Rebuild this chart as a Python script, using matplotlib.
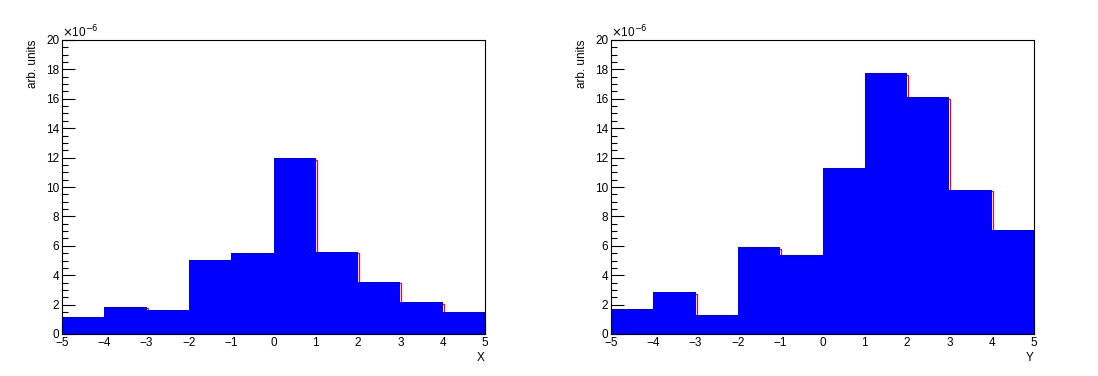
import numpy as np
import matplotlib.pyplot as plt
import matplotlib.transforms as mtransforms
from matplotlib.ticker import MultipleLocator

plt.rcParams['font.family'] = ['Liberation Sans', 'DejaVu Sans']

edges = np.arange(-5, 6, 1)
x_vals = [1.15, 1.84, 1.63, 5.03, 5.5, 11.97, 5.58, 3.54, 2.16, 1.48]
y_vals = [1.72, 2.83, 1.31, 5.89, 5.4, 11.32, 17.75, 16.1, 9.82, 7.1]

fig = plt.figure(figsize=(10.98, 3.76), dpi=100)
W, H = 1098, 376

panels = [(62, x_vals, "X"), (611, y_vals, "Y")]

for left, vals, name in panels:
    ax = fig.add_axes([left / W, (H - 334) / H, 423 / W, 294 / H])
    vals = np.array(vals)
    # red outline peeks out one pixel to the right of the blue fill
    off = mtransforms.offset_copy(ax.transData, fig=fig, x=1, y=-1.5, units='dots')
    ax.stairs(vals, edges, color='red', lw=0.9, transform=off, baseline=None)
    ax.stairs(vals, edges, fill=True, color='blue', lw=0)
    ax.set_xlim(-5, 5)
    ax.set_ylim(0, 20)
    ax.xaxis.set_major_locator(MultipleLocator(1))
    ax.xaxis.set_minor_locator(MultipleLocator(0.2))
    ax.yaxis.set_major_locator(MultipleLocator(2))
    ax.yaxis.set_minor_locator(MultipleLocator(0.5))
    ax.tick_params(which='both', direction='in', top=False, right=False,
                   labelsize=8.5, width=0.8, pad=2)
    ax.tick_params(which='major', length=9)
    ax.tick_params(which='minor', length=4.5)
    for s in ax.spines.values():
        s.set_linewidth(0.8)
    ax.set_axisbelow(True)
    ax.text(0, 1.0, "$\\times$10$^{-6}$", transform=ax.transAxes, fontsize=8.5,
            ha='left', va='bottom')
    ax.set_ylabel("arb. units", fontsize=8.5, loc='top', labelpad=5)
    ax.set_xlabel(name, fontsize=8.5, loc='right', labelpad=2)

fig.savefig("out.png", dpi=100)
